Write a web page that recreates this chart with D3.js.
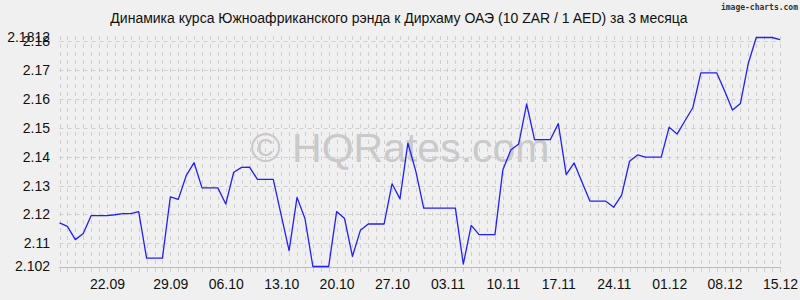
<!DOCTYPE html>
<html>
<head>
<meta charset="utf-8">
<script src="https://cdn.jsdelivr.net/npm/d3@7"></script>
<style>
  body { margin: 0; background: #f0f0f0; }
  svg { display: block; }
</style>
</head>
<body>
<svg width="800" height="300"></svg>
<script>
// daily rates, 15.09.2014 .. 15.12.2014 (weekends repeat friday)
var startDay = new Date(2014, 8, 15)
var rates = [
  2.1171, 2.1159, 2.1113, 2.1134, 2.1196, 2.1196, 2.1196, 2.1199, 2.1203, 2.1203,
  2.1210, 2.1049, 2.1049, 2.1049, 2.1261, 2.1252, 2.1334, 2.1379, 2.1292, 2.1292,
  2.1292, 2.1236, 2.1346, 2.1363, 2.1364, 2.1321, 2.1321, 2.1321, 2.1198, 2.1075,
  2.1259, 2.1186, 2.1020, 2.1020, 2.1020, 2.1210, 2.1186, 2.1055, 2.1145, 2.1167,
  2.1167, 2.1167, 2.1306, 2.1254, 2.1447, 2.1350, 2.1222, 2.1222, 2.1222, 2.1222,
  2.1222, 2.1028, 2.1162, 2.1130, 2.1130, 2.1130, 2.1355, 2.1423, 2.1444, 2.1582,
  2.1459, 2.1459, 2.1459, 2.1514, 2.1338, 2.1378, 2.1311, 2.1246, 2.1246, 2.1246,
  2.1225, 2.1267, 2.1384, 2.1406, 2.1398, 2.1398, 2.1398, 2.1502, 2.1478, 2.1524,
  2.1570, 2.1690, 2.1690, 2.1690, 2.1628, 2.1561, 2.1584, 2.1723, 2.1812, 2.1812,
  2.1812, 2.1805
]

var tickDays = ["2014-09-21", "2014-09-29", "2014-10-06", "2014-10-13", "2014-10-20", "2014-10-27",
  "2014-11-03", "2014-11-10", "2014-11-17", "2014-11-24", "2014-12-01", "2014-12-08", "2014-12-15"]
var tickLabels = ["22.09", "29.09", "06.10", "13.10", "20.10", "27.10",
  "03.11", "10.11", "17.11", "24.11", "01.12", "08.12", "15.12"]

var yTicks = [2.102, 2.11, 2.12, 2.13, 2.14, 2.15, 2.16, 2.17, 2.18, 2.1812]
var yGrid = [2.11, 2.12, 2.13, 2.14, 2.15, 2.16, 2.17, 2.18]

var title = "Динамика курса Южноафриканского рэнда к Дирхаму ОАЭ (10 ZAR / 1 AED) за 3 месяца"

var data = rates.map(function(v, i) {
  return {date: d3.timeDay.offset(startDay, i), value: v}
})

var svg = d3.select("svg")
var font = "'Liberation Sans', Arial, sans-serif"

svg.append("rect")
  .attr("width", 800)
  .attr("height", 300)
  .attr("fill", "#f0f0f0")

var x = d3.scaleTime()
  .domain([data[0].date, data[data.length - 1].date])
  .range([59.5, 780])

var y = d3.scaleLinear()
  .domain([2.102, 2.1812])
  .range([266.5, 37.5])

// watermark
svg.append("text")
  .attr("x", 400)
  .attr("y", 162)
  .attr("text-anchor", "middle")
  .style("font-family", font)
  .style("font-size", "41px")
  .attr("fill", "#c9c9c9")
  .text("© HQRates.com")

svg.append("text")
  .attr("x", 798)
  .attr("y", 10)
  .attr("text-anchor", "end")
  .style("font-family", "'DejaVu Sans Mono', monospace")
  .style("font-size", "8px")
  .style("font-weight", "bold")
  .attr("fill", "#333")
  .text("image-charts.com")

// grid
var days = data.map(function(d) { return d.date })
svg.append("g")
  .selectAll("line")
  .data(days)
  .enter().append("line")
  .attr("x1", function(d) { return Math.round(x(d)) + 0.5 })
  .attr("x2", function(d) { return Math.round(x(d)) + 0.5 })
  .attr("y1", 36)
  .attr("y2", 276)
  .attr("stroke", "#cfcfcf")
  .attr("stroke-dasharray", "4,4")

svg.append("g")
  .selectAll("line")
  .data(yGrid)
  .enter().append("line")
  .attr("x1", 59.5)
  .attr("x2", 781)
  .attr("y1", function(d) { return Math.round(y(d)) + 0.5 })
  .attr("y2", function(d) { return Math.round(y(d)) + 0.5 })
  .attr("stroke", "#cfcfcf")
  .attr("stroke-dasharray", "4,4")

svg.append("line")
  .attr("x1", 59)
  .attr("x2", 781)
  .attr("y1", Math.round(y(2.102)) + 0.5)
  .attr("y2", Math.round(y(2.102)) + 0.5)
  .attr("stroke", "#bdbdbd")

// axes labels
var yAxis = d3.axisLeft(y)
  .tickValues(yTicks)
  .tickFormat(function(d) { return String(d) })
  .tickSize(0)
  .tickPadding(9)

svg.append("g")
  .attr("transform", "translate(59,0)")
  .call(yAxis)
  .call(function(g) { g.select(".domain").remove() })
  .selectAll("text")
  .style("font-family", font)
  .style("font-size", "14px")
  .attr("fill", "#111")

var parseDay = d3.timeParse("%Y-%m-%d")
var xAxis = d3.axisBottom(x)
  .tickValues(tickDays.map(parseDay))
  .tickFormat(function(d, i) { return tickLabels[i] })
  .tickSize(0)
  .tickPadding(13)

svg.append("g")
  .attr("transform", "translate(0,266)")
  .call(xAxis)
  .call(function(g) { g.select(".domain").remove() })
  .selectAll("text")
  .style("font-family", font)
  .style("font-size", "14px")
  .attr("fill", "#111")

// title
svg.append("text")
  .attr("x", 399)
  .attr("y", 23)
  .attr("text-anchor", "middle")
  .style("font-family", font)
  .style("font-size", "14px")
  .attr("fill", "#111")
  .text(title)

// rate line
var line = d3.line()
  .x(function(d) { return x(d.date) })
  .y(function(d) { return y(d.value) })

svg.append("path")
  .datum(data)
  .attr("fill", "none")
  .attr("stroke", "#1f1fff")
  .attr("stroke-width", 1.3)
  .attr("stroke-linejoin", "round")
  .attr("d", line)
</script>
</body>
</html>
